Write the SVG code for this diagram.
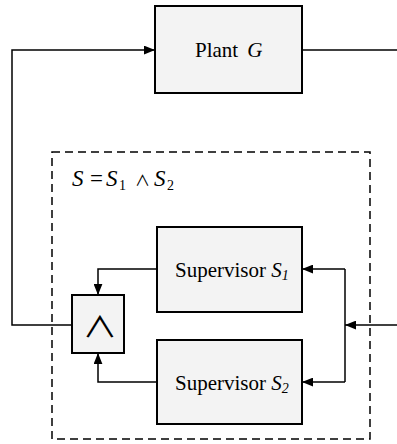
<svg xmlns="http://www.w3.org/2000/svg" width="397" height="444" viewBox="0 0 397 444">
<style>
.box{fill:#f3f3f3;stroke:#000;stroke-width:2}
.ln{fill:none;stroke:#000;stroke-width:1.5}
.t{font-family:"Liberation Serif",serif;fill:#000}
.i{font-style:italic}
.w{font-family:"Noto Sans CJK JP","DejaVu Sans",sans-serif}
</style>
<defs>
<marker id="ah" viewBox="0 0 10 8" refX="10" refY="4" markerWidth="11" markerHeight="9" markerUnits="userSpaceOnUse" orient="auto">
<path d="M0,0 L10,4 L0,8 Z" fill="#000"/>
</marker>
</defs>
<rect x="0" y="0" width="397" height="444" fill="#fff"/>
<g id="frame">
<rect x="52" y="152" width="318" height="287" fill="none" stroke="#000" stroke-width="1.5" stroke-dasharray="8,5"/>
<text x="73" y="186" class="t" font-size="23"><tspan class="i" x="72">S</tspan><tspan x="90">=</tspan><tspan class="i" x="106">S</tspan><tspan font-size="14" x="119" y="190">1</tspan><tspan x="135" y="186" class="w" font-size="15">∧</tspan><tspan class="i" x="154" y="186">S</tspan><tspan font-size="14" x="167" y="190">2</tspan></text>
</g>
<g id="connectors">
<polyline class="ln" points="302,50 397,50"/>
<polyline class="ln" points="72,325 12,325 12,50 155,50" marker-end="url(#ah)"/>
<polyline class="ln" points="157,269 98,269 98,295" marker-end="url(#ah)"/>
<polyline class="ln" points="157,382 98,382 98,353" marker-end="url(#ah)"/>
<polyline class="ln" points="397,325 345,325" marker-end="url(#ah)"/>
<polyline class="ln" points="345,269 345,382"/>
<polyline class="ln" points="345,269 302,269" marker-end="url(#ah)"/>
<polyline class="ln" points="345,382 302,382" marker-end="url(#ah)"/>
</g>
<g id="plant">
<rect class="box" x="155" y="6" width="147" height="87"/>
<text class="t" x="195" y="57" font-size="21">Plant<tspan class="i" dx="9">G</tspan></text>
</g>
<g id="s1">
<rect class="box" x="157" y="227" width="145" height="85"/>
<text class="t" x="175" y="277" font-size="21">Supervisor <tspan class="i">S<tspan font-size="14" dy="3">1</tspan></tspan></text>
</g>
<g id="s2">
<rect class="box" x="157" y="340" width="145" height="84"/>
<text class="t" x="175" y="390" font-size="21">Supervisor <tspan class="i">S<tspan font-size="14" dy="3">2</tspan></tspan></text>
</g>
<g id="and">
<rect class="box" x="72" y="295" width="52" height="58"/>
<text x="0" y="0" text-anchor="middle" class="w" font-size="29" transform="translate(100,338) scale(1.2,1)">∧</text>
</g>
</svg>
